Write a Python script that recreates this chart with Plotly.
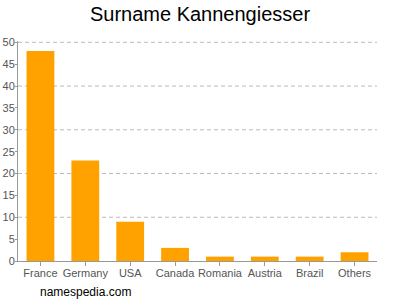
import plotly.graph_objects as go

categories = ["France", "Germany", "USA", "Canada", "Romania", "Austria", "Brazil", "Others"]
values = [48, 23, 9, 3, 1, 1, 1, 2]
y_ticks = [0, 5, 10, 15, 20, 25, 30, 35, 40, 45, 50]

fig = go.Figure(go.Bar(x=categories, y=values, marker=dict(color="#ffa200", line=dict(width=0))))

fig.update_layout(
    width=400, height=300,
    margin=dict(l=18, r=23, t=41, b=39),
    paper_bgcolor="white", plot_bgcolor="white",
    bargap=0.38,
    showlegend=False,
    font=dict(family="Liberation Sans, Arial, sans-serif", size=11, color="#666"),
    title=dict(text="Surname Kannengiesser", x=0.5, xanchor="center", y=0.953, yanchor="middle",
               font=dict(size=20, color="#000")),
)
fig.update_xaxes(showline=True, linecolor="#999", linewidth=1, ticks="outside", ticklen=4,
                 tickcolor="#999", showgrid=False, tickangle=0, automargin=False,
                 ticklabelstandoff=-2, tickfont=dict(size=11, color="#555"))
fig.update_yaxes(range=[0, 50.3], tickvals=y_ticks, showline=True, linecolor="#999", linewidth=1,
                 ticks="outside", ticklen=2, tickcolor="#999", showgrid=False, zeroline=False,
                 automargin=False, ticklabelstandoff=-2, tickfont=dict(size=11, color="#555"))
for v in [10, 20, 30, 40, 50]:
    fig.add_shape(type="line", xref="paper", x0=0, x1=1, yref="y", y0=v, y1=v,
                  line=dict(color="#bbb", width=1, dash="4px,3px"), layer="below")
fig.add_annotation(text="namespedia.com", xref="paper", yref="paper", x=0.055, y=-0.1,
                   xanchor="left", yanchor="top", showarrow=False, font=dict(size=12, color="#000"))
fig.write_html("out.html")
